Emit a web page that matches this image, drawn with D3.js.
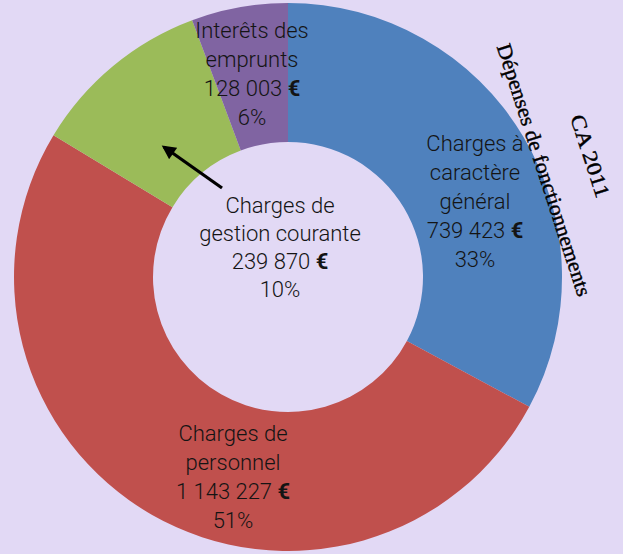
<!DOCTYPE html>
<html><head><meta charset="utf-8">
<script src="https://cdn.jsdelivr.net/npm/d3@7"></script>
<style>
html,body{margin:0;padding:0;background:#e2d9f5;}
svg{display:block;}
</style></head>
<body>
<svg id="chart" width="623" height="554"></svg>
<script>
const categories = ["Charges à caractère général", "Charges de personnel", "Charges de gestion courante", "Interêts des emprunts"];
const labelLines = [["Charges à", "caractère", "général"], ["Charges de", "personnel"], ["Charges de", "gestion courante"], ["Interêts des", "emprunts"]];
const values = [739423, 1143227, 239870, 128003];
const amountLabels = ["739 423", "1 143 227", "239 870", "128 003"];
const percentLabels = ["33%", "51%", "10%", "6%"];
const colors = ["#4f81bd", "#c0504d", "#9bbb59", "#8064a2"];
const titleLines = ["CA 2011", "Dépenses de fonctionnements"];

const W = 623, H = 554;
const cx = 288, cy = 277, rOuter = 274, rInner = 135;
const svg = d3.select("#chart");
svg.append("rect").attr("width", W).attr("height", H).attr("fill", "#e2d9f5");

const pie = d3.pie().sort(null).value(d => d)(values);
const arc = d3.arc().innerRadius(rInner).outerRadius(rOuter);
const g = svg.append("g").attr("transform", `translate(${cx},${cy})`);
g.selectAll("path").data(pie).enter().append("path")
  .attr("d", arc).attr("fill", (d, i) => colors[i]);

// label positions (centre x, first line y)
const labelPos = [[475, 151], [233, 441], [280, 213], [252, 38]];
const lh = 29;
labelPos.forEach((p, i) => {
  const t = svg.append("text")
    .attr("text-anchor", "middle")
    .attr("font-family", "Roboto, sans-serif")
    .attr("font-weight", 300)
    .attr("font-size", 22)
    .attr("fill", "#141414");
  const lines = labelLines[i];
  const step = i === 2 ? 28 : lh;
  lines.forEach((l, j) => {
    t.append("tspan").attr("x", p[0]).attr("y", p[1] + j * step).text(l);
  });
  t.append("tspan").attr("x", p[0]).attr("y", p[1] + lines.length * step).text(amountLabels[i] + " ");
  t.append("tspan").attr("font-weight", 700).text("€");
  t.append("tspan").attr("x", p[0]).attr("y", p[1] + (lines.length + 1) * step).text(percentLabels[i]);
});

// arrow
const defs = svg.append("defs");
defs.append("marker").attr("id", "ah").attr("viewBox", "0 0 10 10")
  .attr("refX", 8).attr("refY", 5).attr("markerWidth", 16).attr("markerHeight", 14)
  .attr("markerUnits", "userSpaceOnUse")
  .attr("orient", "auto")
  .append("path").attr("d", "M0,0 L10,5 L0,10 Z").attr("fill", "#000");
svg.append("line").attr("x1", 222).attr("y1", 188).attr("x2", 164).attr("y2", 147)
  .attr("stroke", "#000").attr("stroke-width", 3.2).attr("marker-end", "url(#ah)");

// rotated title
const titlePos = [[590, 156, 86], [544, 170, 264]];
titleLines.forEach((l, i) => {
  svg.append("text")
    .attr("transform", `translate(${titlePos[i][0]},${titlePos[i][1]}) rotate(72)`)
    .attr("text-anchor", "middle")
    .attr("dominant-baseline", "central")
    .attr("font-family", "'Liberation Serif', 'Times New Roman', serif")
    .attr("font-size", 21)
    .attr("textLength", titlePos[i][2])
    .attr("lengthAdjust", "spacingAndGlyphs")
    .attr("fill", "#000")
    .attr("stroke", "#000")
    .attr("stroke-width", 0.4)
    .text(l);
});
</script>
</body></html>
